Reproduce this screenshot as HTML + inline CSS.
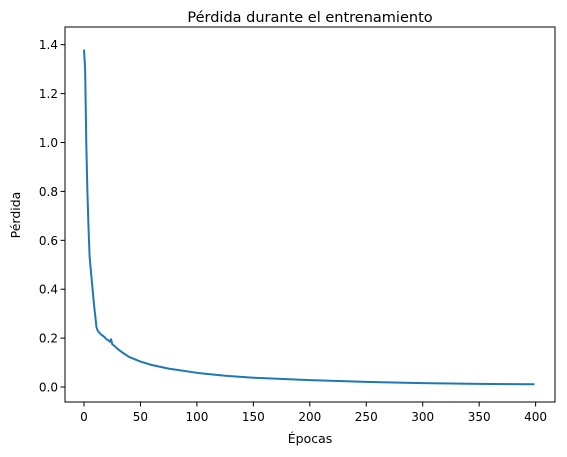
<!DOCTYPE html>
<html><head><meta charset="utf-8"><style>
body{margin:0;background:#fff;}
svg{display:block;font-family:"DejaVu Sans","Liberation Sans",sans-serif;}
</style></head><body>
<svg id="chart" width="567" height="457"></svg>
<script>
const epochs=[0,1,2,3,4,5,6,7,8,9,10,11,12,13,15,18,20,22,23,24,25,27,30,35,40,50,60,75,100,125,150,200,250,300,350,399];
const lossValues=[1.38,1.3,1.0,0.8,0.65,0.53,0.48,0.43,0.38,0.33,0.29,0.245,0.232,0.225,0.215,0.205,0.195,0.19,0.185,0.195,0.175,0.168,0.155,0.138,0.123,0.104,0.09,0.075,0.058,0.046,0.038,0.028,0.021,0.016,0.013,0.011];
const xTicks=[0,50,100,150,200,250,300,350,400];
const yTicks=[0.0,0.2,0.4,0.6,0.8,1.0,1.2,1.4];
const ns="http://www.w3.org/2000/svg";
const svg=document.getElementById('chart');
const L=65,R=555,T=27,B=402;
const xs=v=>84+v*(56.45/50);
const ys=v=>387-v*(244.5/1.0);
function el(t,a,p){const e=document.createElementNS(ns,t);for(const k in a)e.setAttribute(k,a[k]);(p||svg).appendChild(e);return e;}
const title=el('text',{x:310,y:22,'text-anchor':'middle','font-size':14.5,fill:'#000'});title.textContent='Pérdida durante el entrenamiento';


const pts=epochs.map((e,i)=>xs(e).toFixed(2)+','+ys(lossValues[i]).toFixed(2)).join(' ');
const line=el('polyline',{points:pts,fill:'none',stroke:'#1f77b4','stroke-width':2,'stroke-linejoin':'round'});


const frame=el('rect',{x:L,y:T,width:R-L,height:B-T,fill:'none',stroke:'#000','stroke-width':1});


xTicks.forEach(v=>{const x=xs(v);
 const t=el('line',{x1:x,x2:x,y1:B,y2:B+4.5,stroke:'#000','stroke-width':1});
 
 
 const l=el('text',{x:x,y:B+19,'text-anchor':'middle','font-size':12});l.textContent=v;
 
 });
yTicks.forEach(v=>{const y=ys(v);
 const t=el('line',{x1:L-4.5,x2:L,y1:y,y2:y,stroke:'#000','stroke-width':1});
 
 
 const l=el('text',{x:L-7,y:y+4.5,'text-anchor':'end','font-size':12});l.textContent=v.toFixed(1);
 
 });
const xl=el('text',{x:310,y:443,'text-anchor':'middle','font-size':12.5});xl.textContent='Épocas';


const yl=el('text',{x:20,y:215,'text-anchor':'middle','font-size':12.5,transform:'rotate(-90 20 215)'});yl.textContent='Pérdida';


</script>
</body></html>
